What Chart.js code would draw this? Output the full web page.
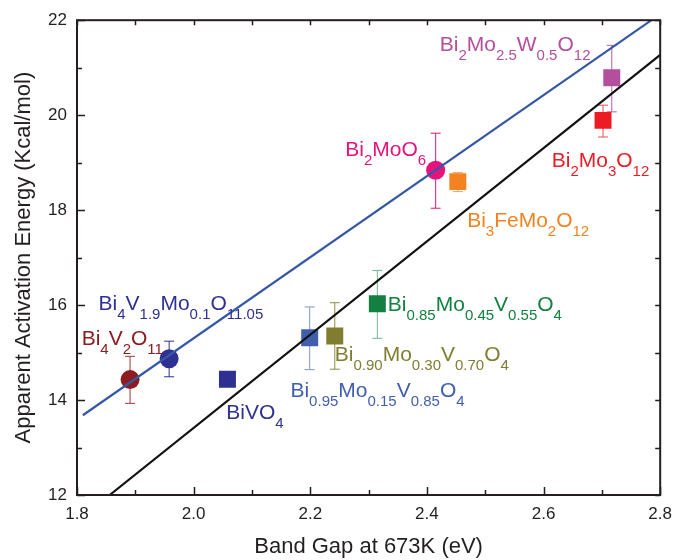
<!DOCTYPE html>
<html><head><meta charset="utf-8">
<script src="https://cdn.jsdelivr.net/npm/chart.js@4/dist/chart.umd.min.js"></script>
<style>html,body{margin:0;padding:0;background:#fff}#wrap{width:681px;height:560px;position:relative}</style>
</head><body><div id="wrap"><canvas id="c" width="681" height="560"></canvas></div>
<script>
// ---- data ----
const compounds = ["Bi4V2O11","Bi4V1.9Mo0.1O11.05","BiVO4","Bi0.95Mo0.15V0.85O4","Bi0.90Mo0.30V0.70O4","Bi0.85Mo0.45V0.55O4","Bi2MoO6","Bi3FeMo2O12","Bi2Mo3O12","Bi2Mo2.5W0.5O12"];
const bandGap = [1.891, 1.958, 2.058, 2.199, 2.242, 2.315, 2.415, 2.453, 2.702, 2.717];
const activationEnergy = [14.43, 14.87, 14.44, 15.31, 15.35, 16.03, 18.84, 18.60, 19.89, 20.79];
const errPlus  = [0.49, 0.37, 0, 0.65, 0.70, 0.70, 0.78, 0.19, 0.32, 0.68];
const errMinus = [0.50, 0.38, 0, 0.67, 0.70, 0.73, 0.80, 0.21, 0.35, 0.72];
const markerShape = ["circle","circle","rect","rect","rect","rect","circle","rect","rect","rect"];
const fitBlueX = [1.81, 2.785];
const fitBlueY = [13.68, 22.0];
const fitBlackX = [1.856, 2.8];
const fitBlackY = [12.0, 21.27];
const xTickValues = [1.8, 2.0, 2.2, 2.4, 2.6, 2.8];
const yTickValues = [12, 14, 16, 18, 20, 22];
// label anchors (data coordinates)
const labelX = [1.808, 1.837, 2.056, 2.166, 2.242, 2.333, 2.260, 2.469, 2.614, 2.422];
const labelY = [15.15, 15.89, 13.60, 14.06, 14.82, 15.87, 19.14, 17.64, 18.90, 21.35];

// ---- styles ----
const markerColors = ["#8c1c20","#2e3192","#2e3192","#3f5fae","#807d31","#138041","#e5137b","#f58220","#ed1c24","#b44f9e"];
const errColors    = ["#a3383b","#2e3192","#2e3192","#7f96cc","#8f8c45","#6fb58c","#e5137b","#f5a060","#ed4a50","#b75fa5"];
const FONT = '"Liberation Sans", Arial, Helvetica, sans-serif';
const AXC = '#231f20';

function drawFormula(ctx, text, x, y, color){
  const parts = text.match(/[0-9.]+|[^0-9.]+/g);
  let cx = x;
  ctx.fillStyle = color; ctx.textBaseline = 'alphabetic'; ctx.textAlign = 'left';
  for (const p of parts){
    const sub = /^[0-9.]/.test(p);
    ctx.font = (sub ? 15 : 21) + 'px ' + FONT;
    ctx.fillText(p, cx, sub ? y + 9 : y);
    cx += ctx.measureText(p).width;
  }
}

const decor = {
  id: 'decor',
  beforeDatasetsDraw(chart){
    const {ctx, scales:{x, y}} = chart;
    ctx.save();
    ctx.lineWidth = 1;
    bandGap.forEach((bx, i) => {
      if (!errPlus[i] && !errMinus[i]) return;
      const px = x.getPixelForValue(bx);
      const top = y.getPixelForValue(activationEnergy[i] + errPlus[i]);
      const bot = y.getPixelForValue(activationEnergy[i] - errMinus[i]);
      ctx.strokeStyle = errColors[i];
      ctx.beginPath();
      ctx.moveTo(px, top); ctx.lineTo(px, bot);
      ctx.moveTo(px - 5, top); ctx.lineTo(px + 5, top);
      ctx.moveTo(px - 5, bot); ctx.lineTo(px + 5, bot);
      ctx.stroke();
    });
    ctx.restore();
  },
  afterDraw(chart){
    const {ctx, chartArea:a, scales:{x, y}} = chart;
    ctx.save();
    compounds.forEach((name, i) => {
      drawFormula(ctx, name, x.getPixelForValue(labelX[i]), y.getPixelForValue(labelY[i]), markerColors[i]);
    });
    ctx.strokeStyle = AXC;
    ctx.lineWidth = 1.5;
    ctx.beginPath();
    for (let i = 0; i <= 10; i++){
      const px = Math.round(x.getPixelForValue(1.8 + i * 0.1)) + 0.5;
      const L = i % 2 === 0 ? 8 : 5;
      ctx.moveTo(px, a.bottom); ctx.lineTo(px, a.bottom - L);
      ctx.moveTo(px, a.top); ctx.lineTo(px, a.top + 5);
    }
    for (let i = 0; i <= 10; i++){
      const py = Math.round(y.getPixelForValue(12 + i)) + 0.5;
      const L = i % 2 === 0 ? 8 : 5;
      ctx.moveTo(a.left, py); ctx.lineTo(a.left + L, py);
      ctx.moveTo(a.right, py); ctx.lineTo(a.right - 5, py);
    }
    ctx.stroke();
    ctx.lineWidth = 2;
    ctx.strokeRect(a.left, a.top, a.right - a.left, a.bottom - a.top);
    ctx.restore();
  }
};

new Chart(document.getElementById('c'), {
  type: 'scatter',
  data: {
    datasets: [
      {
        label: 'compounds',
        data: bandGap.map((v, i) => ({x: v, y: activationEnergy[i]})),
        pointStyle: markerShape,
        pointRadius: markerShape.map(s => s === 'circle' ? 9.5 : 12),
        pointBackgroundColor: markerColors,
        pointBorderWidth: 0,
        pointBorderColor: markerColors,
        order: 2
      },
      {
        label: 'fit1',
        type: 'line',
        data: fitBlueX.map((v, i) => ({x: v, y: fitBlueY[i]})),
        borderColor: '#3558a6', borderWidth: 2.2, pointRadius: 0, fill: false,
        order: 1
      },
      {
        label: 'fit2',
        type: 'line',
        data: fitBlackX.map((v, i) => ({x: v, y: fitBlackY[i]})),
        borderColor: '#111111', borderWidth: 2.2, pointRadius: 0, fill: false,
        order: 1
      }
    ]
  },
  options: {
    responsive: false,
    animation: false,
    devicePixelRatio: 1,
    layout: {padding: {left: 0, right: 14, top: 19, bottom: 0}},
    plugins: {legend: {display: false}, tooltip: {enabled: false}},
    scales: {
      x: {
        type: 'linear', min: 1.8, max: 2.8,
        grid: {display: false, drawTicks: false},
        border: {display: false},
        afterBuildTicks(s){ s.ticks = xTickValues.map(v => ({value: v})); },
        afterFit(s){ s.height = 65; },
        ticks: {color: AXC, padding: 9, font: {family: FONT, size: 17}, callback: v => v.toFixed(1)},
        title: {display: true, text: 'Band Gap at 673K (eV)', color: AXC, font: {family: FONT, size: 22}, padding: {top: 0, bottom: 0}}
      },
      y: {
        type: 'linear', min: 12, max: 22,
        grid: {display: false, drawTicks: false},
        border: {display: false},
        afterBuildTicks(s){ s.ticks = yTickValues.map(v => ({value: v})); },
        afterFit(s){ s.width = 77; },
        ticks: {color: AXC, padding: 10, font: {family: FONT, size: 17}, callback: v => String(v)},
        title: {display: true, text: 'Apparent Activation Energy (Kcal/mol)', color: AXC, font: {family: FONT, size: 22}, padding: {top: 11, bottom: 0}}
      }
    }
  },
  plugins: [decor]
});
</script>
</body></html>
